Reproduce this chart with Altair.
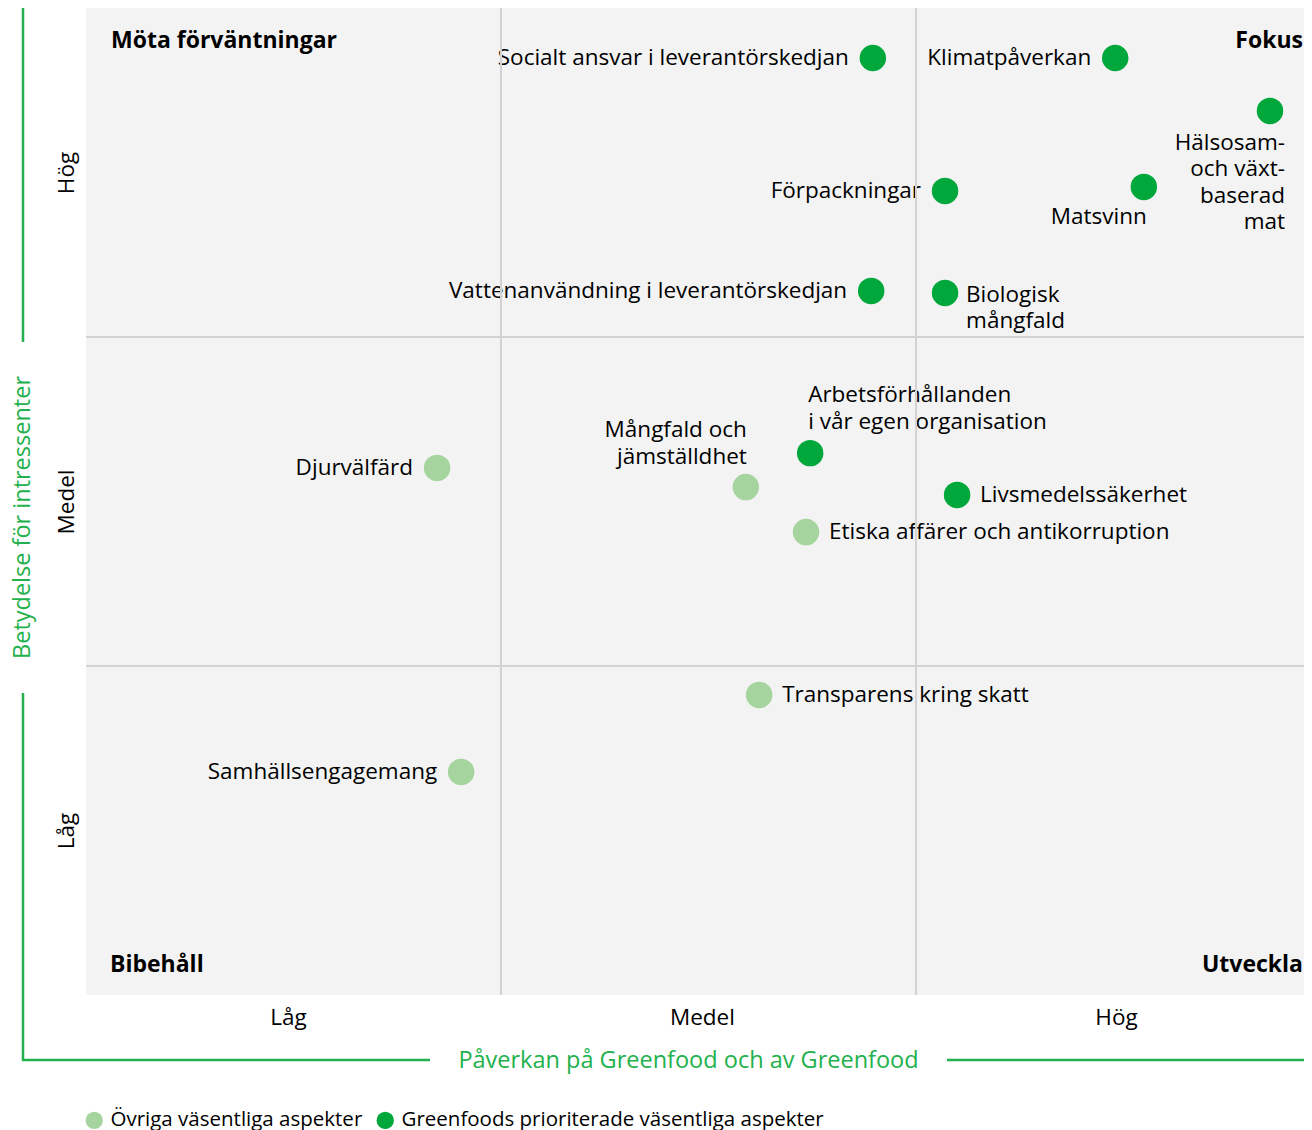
import altair as alt
import pandas as pd

# ---------------- data ----------------
aspects = [
    "Socialt ansvar i leverantörskedjan",
    "Klimatpåverkan",
    "Hälsosam-\noch växt-\nbaserad\nmat",
    "Förpackningar",
    "Matsvinn",
    "Vattenanvändning i leverantörskedjan",
    "Biologisk\nmångfald",
    "Arbetsförhållanden\ni vår egen organisation",
    "Livsmedelssäkerhet",
    "Djurvälfärd",
    "Mångfald och\njämställdhet",
    "Etiska affärer och antikorruption",
    "Transparens kring skatt",
    "Samhällsengagemang",
]
# impact on / by Greenfood (x), importance for stakeholders (y), 0..3 scale
impact = [1.896, 2.480, 2.853, 2.070, 2.549, 1.892, 2.070, 1.745, 2.099,
          0.846, 1.590, 1.735, 1.622, 0.904]
importance = [2.848, 2.848, 2.687, 2.444, 2.456, 2.140, 2.134, 1.647, 1.520,
              1.602, 1.544, 1.407, 0.912, 0.678]
CAT_OTHER = "Övriga väsentliga aspekter"
CAT_PRIO = "Greenfoods prioriterade väsentliga aspekter"
category = [CAT_PRIO] * 9 + [CAT_OTHER] * 5

level_ticks_x = [0.487, 1.484, 2.482]
level_ticks_y = [0.5, 1.5, 2.5]
level_names = ["Låg", "Medel", "Hög"]
quadrant_borders = [1, 2]

quadrant_names = ["Möta förväntningar", "Fokus", "Bibehåll", "Utveckla"]

# ---------------- layout / style ----------------
placement = ["left", "left", "below_right", "left", "below_left", "left",
             "right_block", "above_right", "right",
             "left", "above_left", "right", "right", "left"]
PLACEMENTS = {
    "left": dict(align="right", dx=-24, dy=0),
    "right": dict(align="left", dx=23, dy=0),
    "right_block": dict(align="left", dx=21, dy=2),
    "above_left": dict(align="right", dx=1, dy=-57),
    "above_right": dict(align="left", dx=-2, dy=-58),
    "below_right": dict(align="right", dx=15, dy=32),
    "below_left": dict(align="right", dx=3, dy=30),
}

BG = "#f3f3f3"
DARK = "#00a83c"
LIGHT = "#a6d49e"
AXIS_GREEN = "#22b14c"
GRID = "#d2d2d2"
FONT = "Open Sans"
FS = 22.5
FS_BOLD = 23
FS_TITLE = 23.5

W, H = 1218, 987
PX_PER_UNIT = 415.0
XMAX = W / PX_PER_UNIT

df = pd.DataFrame(dict(aspect=aspects, impact=impact, importance=importance,
                       category=category, placement=placement))

x_scale = alt.Scale(domain=[0, XMAX], nice=False, zero=False)
y_scale = alt.Scale(domain=[0, 3], nice=False, zero=False)

label_expr = ("datum.value < 1 ? '%s' : datum.value < 2 ? '%s' : '%s'"
              % tuple(level_names))

x_axis = alt.Axis(values=level_ticks_x, labelExpr=label_expr, domain=False,
                  ticks=False, grid=False, labelFontSize=FS, labelFont=FONT,
                  labelColor="black", labelPadding=11,
                  title="Påverkan på Greenfood och av Greenfood",
                  titleColor=AXIS_GREEN, titleFontSize=FS_TITLE, titleFont=FONT,
                  titleFontWeight="normal", titleX=602, titleY=65,
                  titleAlign="center", titleBaseline="middle")
y_axis = alt.Axis(values=level_ticks_y, labelExpr=label_expr, domain=False,
                  ticks=False, grid=False, labelFontSize=FS, labelFont=FONT,
                  labelColor="black", labelAngle=270, labelAlign="center",
                  labelBaseline="bottom", labelPadding=8,
                  title="Betydelse för intressenter",
                  titleColor=AXIS_GREEN, titleFontSize=FS_TITLE, titleFont=FONT,
                  titleFontWeight="normal", titleAngle=270, titleX=-64,
                  titleY=509, titleAlign="center", titleBaseline="middle")

X = alt.X("impact:Q", scale=x_scale)
Y = alt.Y("importance:Q", scale=y_scale)

base = alt.Chart(df)

points = base.mark_circle(size=700, opacity=1).encode(
    x=alt.X("impact:Q", scale=x_scale, axis=x_axis),
    y=alt.Y("importance:Q", scale=y_scale, axis=y_axis),
    color=alt.Color(
        "category:N",
        scale=alt.Scale(domain=[CAT_OTHER, CAT_PRIO], range=[LIGHT, DARK]),
        legend=alt.Legend(title=None, orient="none", legendX=-2, legendY=1102,
                          direction="horizontal", symbolType="circle",
                          symbolSize=300, symbolStrokeWidth=0,
                          symbolOpacity=1, labelFontSize=20.5, labelFont=FONT,
                          labelColor="black", labelOffset=6, columnPadding=12,
                          labelLimit=0),
    ),
)

label_layers = []
for key, p in PLACEMENTS.items():
    label_layers.append(
        base.transform_filter(alt.datum.placement == key)
        .mark_text(align=p["align"], baseline="middle", dx=p["dx"], dy=p["dy"],
                   font=FONT, fontSize=FS, color="black", lineBreak="\n",
                   lineHeight=26.5)
        .encode(x=X, y=Y, text="aspect:N")
    )

quad_df = pd.DataFrame(dict(name=quadrant_names,
                            impact=[0, XMAX, 0, XMAX],
                            importance=[3, 3, 0, 0]))
QUAD_STYLE = [dict(align="left", dx=25, dy=33), dict(align="right", dx=-1, dy=33),
              dict(align="left", dx=24, dy=-30), dict(align="right", dx=-1, dy=-30)]
quad_layers = []
for name, st in zip(quadrant_names, QUAD_STYLE):
    quad_layers.append(
        alt.Chart(quad_df).transform_filter(alt.datum.name == name)
        .mark_text(align=st["align"], baseline="middle", dx=st["dx"], dy=st["dy"],
                   font=FONT, fontSize=FS_BOLD, fontWeight="bold", color="black")
        .encode(x=X, y=Y, text="name:N")
    )

vgrid_df = pd.DataFrame(dict(impact=quadrant_borders))
hgrid_df = pd.DataFrame(dict(importance=quadrant_borders))
vgrid = alt.Chart(vgrid_df).mark_rule(color=GRID, strokeWidth=2).encode(x=X)
hgrid = alt.Chart(hgrid_df).mark_rule(color=GRID, strokeWidth=2).encode(y=Y)

one = alt.Data(values=[{"a": 1}])


def green_rule(**kw):
    return alt.Chart(one).mark_rule(color=AXIS_GREEN, strokeWidth=2.5).encode(
        **{k: alt.value(v) for k, v in kw.items()})


frame = [
    green_rule(x=-63, y=0, y2=334),
    green_rule(x=-63, y=685, y2=1053),
    green_rule(x=-64, x2=344, y=1052),
    green_rule(x=861, x2=W, y=1052),
]

chart = alt.layer(points, *label_layers, *quad_layers, vgrid, hgrid, *frame).properties(
    width=W, height=H,
    autosize=alt.AutoSizeParams(type="none"),
    padding={"left": 78, "top": 0, "right": 0, "bottom": 135},
).configure(background="white").configure_view(
    fill=BG, stroke=BG, strokeWidth=0, strokeOpacity=0)

chart.save("out.html", embed_options={"renderer": "svg", "actions": False})
